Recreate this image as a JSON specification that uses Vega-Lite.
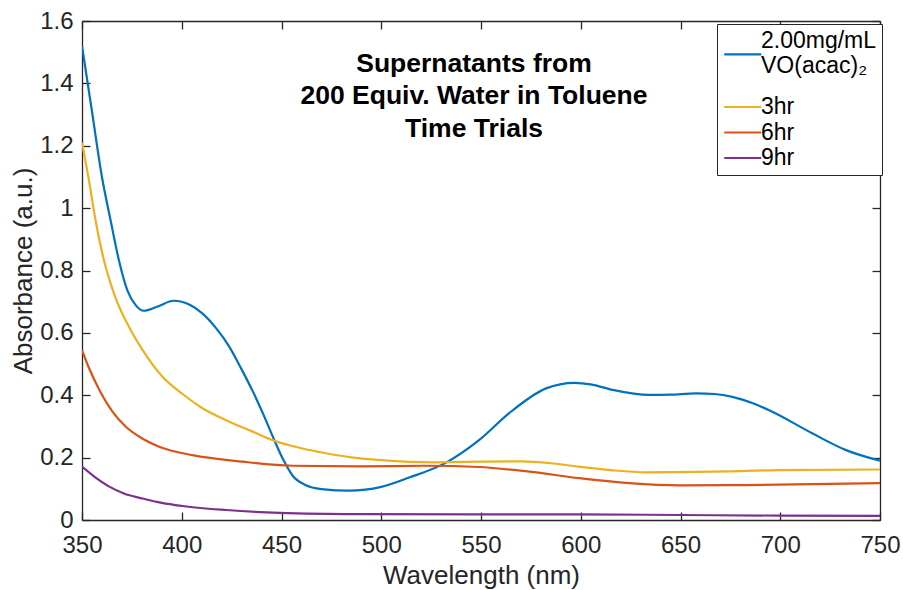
{
  "$schema": "https://vega.github.io/schema/vega-lite/v6.json",
  "autosize": {"type": "none"},
  "width": 798,
  "height": 499,
  "padding": {"left": 82, "top": 21, "right": 23, "bottom": 70},
  "background": "white",
  "config": {
    "font": "Liberation Sans",
    "view": {"stroke": null},
    "axis": {"grid": false, "domainColor": "#262626", "domainWidth": 1.3, "tickColor": "#262626", "tickWidth": 1.3, "labelColor": "#262626", "titleColor": "#262626", "labelFont": "Liberation Sans", "titleFont": "Liberation Sans"}
  },
  "title": {
    "text": ["Supernatants from", "200 Equiv. Water in Toluene", "Time Trials"],
    "fontSize": 26.5,
    "fontWeight": "bold",
    "font": "Liberation Sans",
    "color": "#000000",
    "lineHeight": 32.5,
    "baseline": "top",
    "anchor": "middle",
    "frame": "group",
    "offset": -133,
    "dx": -7
  },
  "data": {
    "values": [
      {"wl": 350, "abs": 1.52, "s": "2.00mg/mL VO(acac)₂"},
      {"wl": 355, "abs": 1.31, "s": "2.00mg/mL VO(acac)₂"},
      {"wl": 360, "abs": 1.10, "s": "2.00mg/mL VO(acac)₂"},
      {"wl": 364.3, "abs": 0.962, "s": "2.00mg/mL VO(acac)₂"},
      {"wl": 368.5, "abs": 0.833, "s": "2.00mg/mL VO(acac)₂"},
      {"wl": 372.7, "abs": 0.737, "s": "2.00mg/mL VO(acac)₂"},
      {"wl": 376.9, "abs": 0.689, "s": "2.00mg/mL VO(acac)₂"},
      {"wl": 381, "abs": 0.671, "s": "2.00mg/mL VO(acac)₂"},
      {"wl": 387.7, "abs": 0.684, "s": "2.00mg/mL VO(acac)₂"},
      {"wl": 396, "abs": 0.703, "s": "2.00mg/mL VO(acac)₂"},
      {"wl": 404, "abs": 0.690, "s": "2.00mg/mL VO(acac)₂"},
      {"wl": 410, "abs": 0.664, "s": "2.00mg/mL VO(acac)₂"},
      {"wl": 417, "abs": 0.617, "s": "2.00mg/mL VO(acac)₂"},
      {"wl": 423.8, "abs": 0.556, "s": "2.00mg/mL VO(acac)₂"},
      {"wl": 430, "abs": 0.483, "s": "2.00mg/mL VO(acac)₂"},
      {"wl": 435.5, "abs": 0.414, "s": "2.00mg/mL VO(acac)₂"},
      {"wl": 441, "abs": 0.337, "s": "2.00mg/mL VO(acac)₂"},
      {"wl": 446.4, "abs": 0.256, "s": "2.00mg/mL VO(acac)₂"},
      {"wl": 451, "abs": 0.192, "s": "2.00mg/mL VO(acac)₂"},
      {"wl": 455.6, "abs": 0.142, "s": "2.00mg/mL VO(acac)₂"},
      {"wl": 462, "abs": 0.112, "s": "2.00mg/mL VO(acac)₂"},
      {"wl": 470, "abs": 0.099, "s": "2.00mg/mL VO(acac)₂"},
      {"wl": 484, "abs": 0.094, "s": "2.00mg/mL VO(acac)₂"},
      {"wl": 500, "abs": 0.106, "s": "2.00mg/mL VO(acac)₂"},
      {"wl": 514, "abs": 0.136, "s": "2.00mg/mL VO(acac)₂"},
      {"wl": 532.5, "abs": 0.184, "s": "2.00mg/mL VO(acac)₂"},
      {"wl": 549, "abs": 0.256, "s": "2.00mg/mL VO(acac)₂"},
      {"wl": 564, "abs": 0.342, "s": "2.00mg/mL VO(acac)₂"},
      {"wl": 582.6, "abs": 0.422, "s": "2.00mg/mL VO(acac)₂"},
      {"wl": 596.8, "abs": 0.440, "s": "2.00mg/mL VO(acac)₂"},
      {"wl": 605, "abs": 0.435, "s": "2.00mg/mL VO(acac)₂"},
      {"wl": 616, "abs": 0.417, "s": "2.00mg/mL VO(acac)₂"},
      {"wl": 634.4, "abs": 0.401, "s": "2.00mg/mL VO(acac)₂"},
      {"wl": 645, "abs": 0.402, "s": "2.00mg/mL VO(acac)₂"},
      {"wl": 657.8, "abs": 0.406, "s": "2.00mg/mL VO(acac)₂"},
      {"wl": 667, "abs": 0.404, "s": "2.00mg/mL VO(acac)₂"},
      {"wl": 676, "abs": 0.395, "s": "2.00mg/mL VO(acac)₂"},
      {"wl": 686, "abs": 0.375, "s": "2.00mg/mL VO(acac)₂"},
      {"wl": 696, "abs": 0.347, "s": "2.00mg/mL VO(acac)₂"},
      {"wl": 716, "abs": 0.278, "s": "2.00mg/mL VO(acac)₂"},
      {"wl": 733, "abs": 0.224, "s": "2.00mg/mL VO(acac)₂"},
      {"wl": 750, "abs": 0.190, "s": "2.00mg/mL VO(acac)₂"},

      {"wl": 350, "abs": 1.21, "s": "3hr"},
      {"wl": 354, "abs": 1.07, "s": "3hr"},
      {"wl": 356, "abs": 0.99, "s": "3hr"},
      {"wl": 361, "abs": 0.833, "s": "3hr"},
      {"wl": 366, "abs": 0.727, "s": "3hr"},
      {"wl": 374.4, "abs": 0.609, "s": "3hr"},
      {"wl": 380.4, "abs": 0.545, "s": "3hr"},
      {"wl": 390, "abs": 0.462, "s": "3hr"},
      {"wl": 400.4, "abs": 0.404, "s": "3hr"},
      {"wl": 410, "abs": 0.36, "s": "3hr"},
      {"wl": 422.2, "abs": 0.32, "s": "3hr"},
      {"wl": 435, "abs": 0.285, "s": "3hr"},
      {"wl": 446.4, "abs": 0.254, "s": "3hr"},
      {"wl": 460, "abs": 0.23, "s": "3hr"},
      {"wl": 472.3, "abs": 0.214, "s": "3hr"},
      {"wl": 486, "abs": 0.2, "s": "3hr"},
      {"wl": 500, "abs": 0.192, "s": "3hr"},
      {"wl": 525.8, "abs": 0.185, "s": "3hr"},
      {"wl": 549, "abs": 0.187, "s": "3hr"},
      {"wl": 570, "abs": 0.188, "s": "3hr"},
      {"wl": 585, "abs": 0.182, "s": "3hr"},
      {"wl": 599, "abs": 0.171, "s": "3hr"},
      {"wl": 615, "abs": 0.16, "s": "3hr"},
      {"wl": 632.5, "abs": 0.153, "s": "3hr"},
      {"wl": 657.8, "abs": 0.154, "s": "3hr"},
      {"wl": 680, "abs": 0.157, "s": "3hr"},
      {"wl": 699.4, "abs": 0.160, "s": "3hr"},
      {"wl": 750, "abs": 0.162, "s": "3hr"},

      {"wl": 350, "abs": 0.545, "s": "6hr"},
      {"wl": 354, "abs": 0.48, "s": "6hr"},
      {"wl": 358.7, "abs": 0.417, "s": "6hr"},
      {"wl": 365, "abs": 0.35, "s": "6hr"},
      {"wl": 372, "abs": 0.299, "s": "6hr"},
      {"wl": 380, "abs": 0.262, "s": "6hr"},
      {"wl": 388.7, "abs": 0.235, "s": "6hr"},
      {"wl": 405.4, "abs": 0.208, "s": "6hr"},
      {"wl": 430.5, "abs": 0.187, "s": "6hr"},
      {"wl": 455.6, "abs": 0.174, "s": "6hr"},
      {"wl": 489, "abs": 0.172, "s": "6hr"},
      {"wl": 522.5, "abs": 0.174, "s": "6hr"},
      {"wl": 549, "abs": 0.170, "s": "6hr"},
      {"wl": 574.3, "abs": 0.155, "s": "6hr"},
      {"wl": 599.3, "abs": 0.134, "s": "6hr"},
      {"wl": 624.4, "abs": 0.118, "s": "6hr"},
      {"wl": 649.5, "abs": 0.111, "s": "6hr"},
      {"wl": 683, "abs": 0.112, "s": "6hr"},
      {"wl": 750, "abs": 0.118, "s": "6hr"},

      {"wl": 350, "abs": 0.171, "s": "9hr"},
      {"wl": 356, "abs": 0.14, "s": "9hr"},
      {"wl": 363.7, "abs": 0.107, "s": "9hr"},
      {"wl": 371, "abs": 0.085, "s": "9hr"},
      {"wl": 380.4, "abs": 0.069, "s": "9hr"},
      {"wl": 390, "abs": 0.055, "s": "9hr"},
      {"wl": 400.4, "abs": 0.045, "s": "9hr"},
      {"wl": 422.2, "abs": 0.032, "s": "9hr"},
      {"wl": 449, "abs": 0.023, "s": "9hr"},
      {"wl": 489, "abs": 0.019, "s": "9hr"},
      {"wl": 550, "abs": 0.018, "s": "9hr"},
      {"wl": 599, "abs": 0.018, "s": "9hr"},
      {"wl": 650, "abs": 0.016, "s": "9hr"},
      {"wl": 700, "abs": 0.014, "s": "9hr"},
      {"wl": 750, "abs": 0.013, "s": "9hr"}
    ]
  },
  "layer": [
    {
      "mark": {"type": "line", "interpolate": "monotone", "strokeWidth": 2.2, "clip": true},
      "encoding": {
        "x": {"field": "wl", "type": "quantitative", "scale": {"domain": [350, 750], "nice": false},
          "axis": {"title": "Wavelength (nm)", "values": [350, 400, 450, 500, 550, 600, 650, 700, 750], "tickSize": -8, "labelPadding": 21, "labelFontSize": 24, "titleFontSize": 26, "titleFontWeight": "normal", "titlePadding": 5, "labelFlush": false}},
        "y": {"field": "abs", "type": "quantitative", "scale": {"domain": [0, 1.6], "nice": false},
          "axis": {"title": "Absorbance (a.u.)", "values": [0, 0.2, 0.4, 0.6, 0.8, 1, 1.2, 1.4, 1.6], "format": "~g", "tickSize": -8, "labelPadding": 17, "labelFontSize": 24, "titleFontSize": 26, "titleFontWeight": "normal", "titlePadding": 3, "labelFlush": false}},
        "color": {"field": "s", "type": "nominal",
          "scale": {"domain": ["2.00mg/mL VO(acac)₂", "3hr", "6hr", "9hr"], "range": ["#0072BD", "#EDB120", "#D95319", "#7E2F8E"]},
          "legend": {"title": null, "orient": "none", "legendX": 635, "legendY": 3, "labelFontSize": 23, "labelColor": "#000000", "labelFont": "Liberation Sans",
            "labelExpr": "datum.label == '2.00mg/mL VO(acac)₂' ? ['2.00mg/mL', 'VO(acac)₂'] : datum.label",
            "labelLineHeight": 27.5, "symbolType": "M-1,0L3,0", "symbolSize": 342, "symbolStrokeWidth": 2.2, "labelOffset": 16,
            "rowPadding": 1.5, "padding": 5, "strokeColor": "#262626", "fillColor": "white", "labelLimit": 200,
            "encode": {"symbols": {"update": {"shape": {"signal": "datum.value == '2.00mg/mL VO(acac)₂' ? 'M-1,1.5L3,1.5M-1,5.3L-1,5.3' : 'M-1,0L3,0'"}}}}}}
      }
    },
    {
      "mark": {"type": "line", "opacity": 0},
      "encoding": {
        "x": {"field": "wl", "type": "quantitative", "scale": {"domain": [350, 750], "nice": false},
          "axis": {"orient": "top", "title": null, "labels": false, "values": [350, 400, 450, 500, 550, 600, 650, 700, 750], "tickSize": -8}},
        "y": {"field": "abs", "type": "quantitative", "scale": {"domain": [0, 1.6], "nice": false},
          "axis": {"orient": "right", "title": null, "labels": false, "values": [0, 0.2, 0.4, 0.6, 0.8, 1, 1.2, 1.4, 1.6], "tickSize": -8}},
        "detail": {"field": "s"}
      }
    }
  ],
  "resolve": {"scale": {"x": "independent", "y": "independent"}}
}
